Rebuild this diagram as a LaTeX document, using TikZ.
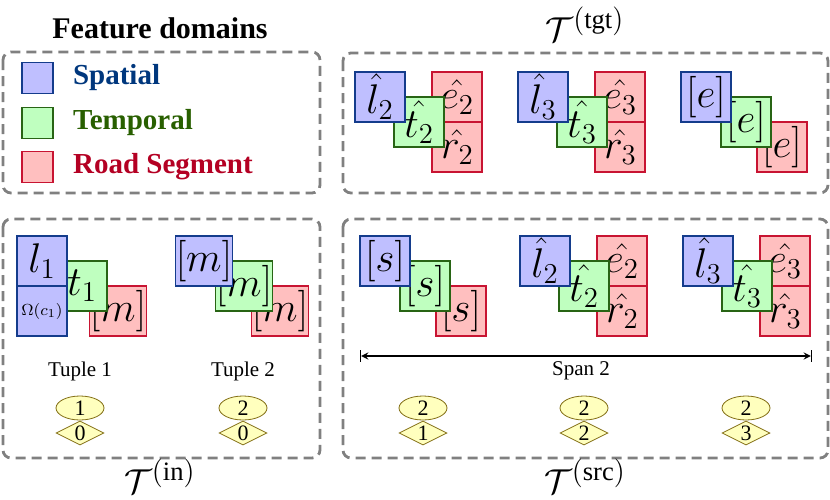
\documentclass[tikz,border=0pt]{standalone}
\usepackage{fontspec}
\setmainfont{Liberation Serif}
\usepackage{amsmath}
\usetikzlibrary{shapes.geometric}
\definecolor{spfill}{RGB}{191,191,255}
\definecolor{spline}{RGB}{20,60,140}
\definecolor{tpfill}{RGB}{191,255,191}
\definecolor{tpline}{RGB}{40,100,20}
\definecolor{rdfill}{RGB}{255,191,191}
\definecolor{rdline}{RGB}{200,20,50}
\definecolor{sptext}{RGB}{0,55,125}
\definecolor{tptext}{RGB}{40,95,0}
\definecolor{rdtext}{RGB}{180,0,35}
\definecolor{idfill}{RGB}{255,255,190}
\definecolor{idline}{RGB}{130,110,20}
\tikzset{
  feat/.style={minimum size=25pt, inner sep=0pt, line width=0.6pt,
    font=\fontsize{19.5}{19.5}\selectfont},
  spat/.style={feat, draw=spline, fill=spfill},
  temp/.style={feat, draw=tpline, fill=tpfill},
  road/.style={feat, draw=rdline, fill=rdfill},
  frame/.style={draw=gray, line width=1.4pt, dash pattern=on 5pt off 3pt, rounded corners=4pt},
  posid/.style={ellipse, draw=idline, fill=idfill, minimum width=24pt, minimum height=12pt,
    inner sep=0pt, font=\fontsize{11}{11}\selectfont},
  segid/.style={diamond, draw=idline, fill=idfill, minimum width=24pt, minimum height=12pt,
    inner sep=0pt, aspect=2, font=\fontsize{11}{11}\selectfont},
  caption/.style={font=\fontsize{10.5}{10.5}\selectfont},
  settitle/.style={font=\fontsize{19}{19}\selectfont}
}
\begin{document}
\begin{tikzpicture}[x=0.5pt, y=-0.5pt]
   \useasboundingbox (0,0) rectangle (830,499);
   % frames
   \draw[frame] (3,52) rectangle (320,193);
   \draw[frame] (343,53) rectangle (828,193);
   \draw[frame] (3,219) rectangle (320,458);
   \draw[frame] (343,219) rectangle (828,458);
   % titles
   \node[font=\fontsize{15}{15}\selectfont\bfseries] (ftitle) at (160,28) {Feature domains};
   \node[settitle] (ttgt) at (585,24) {$\mathcal{T}^{(\mathrm{tgt})}$};
   \node[settitle] (tin) at (160,476) {$\mathcal{T}^{(\mathrm{in})}$};
   \node[settitle] (tsrc) at (585,476) {$\mathcal{T}^{(\mathrm{src})}$};
   % legend
   \foreach \k / \y / \s / \c / \t in {
      lsp/78/spat/sptext/Spatial,
      ltp/123/temp/tptext/Temporal,
      lrd/167/road/rdtext/Road Segment} {
      \node[\s, minimum size=15.5pt] (\k) at (37.5,\y) {};
      \node[anchor=west, text=\c, font=\fontsize{14.5}{14.5}\selectfont\bfseries] (\k text) at (66,\y) {\t};
   }
   % groups with one road box
   \foreach \g / \x / \y / \a / \b / \c in {
      tb/179/236/{$[m]$}/{$[m]$}/{$[m]$},
      te/681/72/{$[e]$}/{$[e]$}/{$[e]$},
      sa/360/236/{$[s]$}/{$[s]$}/{$[s]$}} {
      \node[road] (\g r) at (\x+101,\y+75) {\c};
      \node[temp] (\g t) at (\x+65,\y+50) {\b};
      \node[spat] (\g l) at (\x+25,\y+25) {\a};
   }
   % groups with road and edge boxes
   \foreach \g / \x / \y / \i in {
      tf/355/72/2, tg/518/72/3, sb/520/236/2, sc/683/236/3} {
      \node[road] (\g e) at (\x+102,\y+25) {$\hat{e_\i}$};
      \node[road] (\g r) at (\x+102,\y+75) {$\hat{r_\i}$};
      \node[temp] (\g t) at (\x+64,\y+50) {$\hat{t_\i}$};
      \node[spat] (\g l) at (\x+25,\y+25) {$\hat{l}_\i$};
   }
   % tuple 1
   \node[road] (tar) at (118,311) {$[m]$};
   \node[temp] (tat) at (82,286) {$t_1$};
   \node[spat] (tal) at (42,261) {$l_1$};
   \node[spat, font=\fontsize{8.5}{8.5}\selectfont] (tao) at (42,311) {$\Omega(c_1)$};
   % captions
   \node[caption] (cap1) at (80,371) {Tuple 1};
   \node[caption] (cap2) at (243,371) {Tuple 2};
   \coordinate (spanl) at (360,356);
   \coordinate (spanr) at (812,356);
   \draw[|<->|, >=stealth, line width=0.6pt] (spanl) -- (spanr);
   \node[caption] (span) at (581,371) {Span 2};
   % position ids
   \foreach \k / \x / \p / \q in {
      ia/80/1/0, ib/243/2/0, ic/423/2/1, id/584/2/2, ie/746/2/3} {
      \node[posid] (\k p) at (\x,408) {\p};
      \node[segid] (\k q) at (\x,433) {\q};
   }
\end{tikzpicture}
\end{document}
